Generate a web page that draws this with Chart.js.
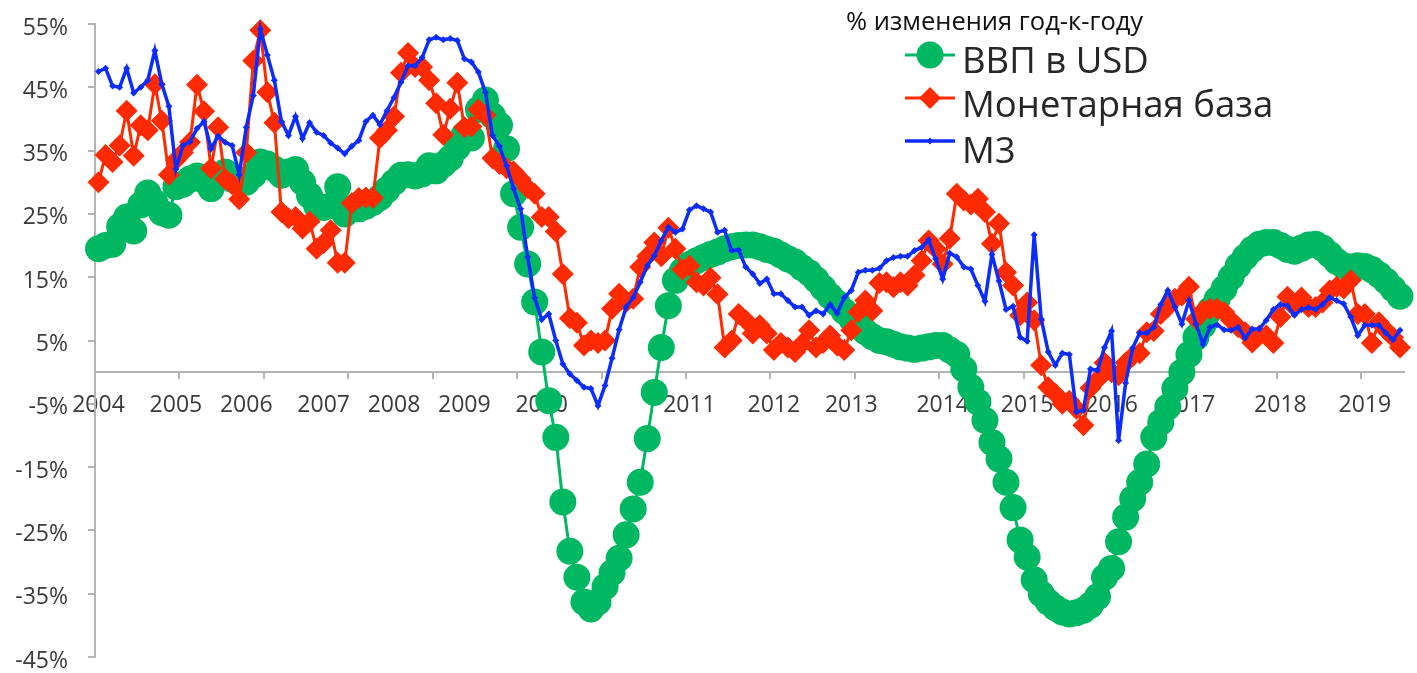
<!DOCTYPE html>
<html>
<head>
<meta charset="utf-8">
<script src="https://cdn.jsdelivr.net/npm/chart.js@4.4.1/dist/chart.umd.min.js"></script>
<style>
  html, body { margin: 0; padding: 0; background: #fff; }
  #wrap { width: 1417px; height: 673px; }
</style>
</head>
<body>
<div id="wrap"><canvas id="myChart"></canvas></div>
<script>
// monthly, Jan 2004 .. Jun 2019
var firstYear = 2004
var monthCount = 186

var yearLabels = ['2004','2005','2006','2007','2008','2009','2010','2011','2012','2013','2014','2015','2016','2017','2018','2019']
var yearLabelAt = [0, 11, 21, 32, 42, 52, 63, 84, 96, 107, 120, 132, 144, 155, 168, 180]

var legendTitle = '% изменения год-к-году'

var gdpUsd = [
  19.5, 20.0, 20.2, 23.0, 24.5, 22.3, 26.4, 28.3, 26.8, 25.2, 24.8, 29.3,
  29.7, 30.5, 31.0, 30.3, 29.0, 31.0, 31.6, 30.5, 30.3, 30.0, 31.1, 33.2,
  32.9, 32.1, 31.1, 31.6, 32.0, 30.0, 27.9, 26.3, 26.0, 26.3, 29.3, 25.0,
  25.8, 25.8, 26.2, 26.8, 27.6, 28.8, 30.0, 31.1, 31.2, 31.0, 31.3, 32.6,
  31.8, 32.8, 33.8, 35.5, 37.5, 37.0, 41.5, 43.0, 40.5, 39.0, 35.3, 28.2,
  22.9, 17.1, 11.1, 3.2, -4.5, -10.3, -20.5, -28.3, -32.4, -36.3, -37.4, -36.3,
  -33.9, -31.7, -29.4, -25.7, -21.6, -17.4, -10.5, -3.2, 3.9, 10.5, 14.5, 16.0,
  17.0, 17.6, 18.1, 18.6, 19.0, 19.5, 19.8, 20.0, 20.1, 20.1, 19.8, 19.4,
  19.1, 18.5, 17.9, 17.4, 16.5, 15.7, 14.6, 13.3, 12.0, 10.9, 9.6, 8.5,
  7.3, 6.4, 5.6, 5.0, 4.8, 4.4, 4.0, 3.8, 3.6, 3.8, 4.0, 4.2,
  4.2, 3.5, 2.8, 0.5, -2.4, -4.7, -7.6, -11.1, -13.7, -17.4, -21.4, -26.5,
  -29.2, -32.8, -35.0, -36.3, -37.2, -37.9, -38.2, -38.0, -37.6, -36.8, -35.5, -32.4,
  -31.0, -26.8, -22.9, -20.0, -17.4, -14.5, -10.3, -7.9, -5.5, -2.6, 0.0, 2.8,
  5.5, 7.4, 9.8, 11.5, 13.2, 15.0, 16.8, 18.2, 19.4, 20.2, 20.5, 20.5,
  20.0, 19.4, 19.1, 19.6, 20.1, 20.2, 19.6, 18.6, 17.5, 16.8, 16.6, 16.8,
  16.7, 16.2, 15.4, 14.4, 13.2, 12.0
]

var monetaryBase = [
  30.0, 34.3, 33.2, 35.8, 41.3, 34.2, 39.0, 38.2, 45.5, 39.7, 31.2, 33.5,
  34.7, 36.3, 45.4, 41.2, 32.2, 38.7, 30.5, 29.7, 27.3, 34.7, 49.2, 54.0,
  44.2, 39.4, 25.3, 24.3, 24.5, 22.7, 23.8, 19.5, 20.4, 22.4, 17.3, 17.3,
  26.7, 27.5, 27.6, 27.5, 37.0, 38.2, 40.4, 47.3, 50.4, 48.2, 48.2, 46.1,
  42.5, 37.5, 41.6, 45.7, 38.7, 38.8, 41.5, 40.6, 33.8, 32.9, 32.2, 31.7,
  30.5, 29.1, 28.2, 24.5, 24.5, 22.2, 15.5, 8.5, 7.8, 4.2, 5.0, 4.6,
  5.0, 10.0, 12.4, 11.1, 11.6, 16.6, 18.3, 20.5, 18.3, 22.8, 19.5, 16.2,
  16.8, 14.2, 13.7, 14.9, 12.3, 3.9, 5.0, 9.2, 8.2, 6.1, 7.4, 6.1,
  3.5, 4.6, 3.9, 3.2, 4.5, 6.6, 3.9, 4.6, 5.8, 4.2, 3.5, 6.6,
  9.5, 11.3, 9.7, 14.1, 14.2, 13.4, 14.2, 13.7, 15.3, 17.6, 20.8, 19.5,
  17.1, 21.1, 28.2, 27.1, 26.5, 27.4, 25.3, 20.3, 23.5, 15.8, 13.7, 9.0,
  11.0, 8.2, 1.1, -2.4, -3.4, -5.0, -4.5, -5.8, -8.4, -2.5, -1.2, 1.5,
  0.0, -0.5, 1.5, 2.5, 3.0, 6.3, 6.5, 9.2, 10.3, 11.6, 12.1, 13.5,
  8.4, 9.7, 10.0, 10.0, 9.5, 8.2, 7.1, 6.3, 4.7, 5.8, 5.8, 4.6,
  8.7, 11.9, 10.3, 11.8, 10.3, 10.3, 11.0, 12.9, 13.5, 13.2, 14.5, 9.2,
  9.2, 4.6, 7.9, 6.6, 5.5, 3.9
]

var m3 = [
  47.5, 48.0, 45.2, 45.0, 48.0, 44.1, 45.0, 46.1, 50.8, 45.5, 42.0, 32.1,
  35.8, 36.4, 38.5, 39.6, 35.3, 37.3, 36.3, 35.8, 31.2, 38.7, 43.7, 54.2,
  50.1, 46.1, 39.6, 37.4, 40.4, 36.9, 39.4, 37.9, 37.4, 36.2, 35.4, 34.5,
  35.7, 36.6, 39.6, 40.6, 39.1, 41.3, 43.4, 45.8, 48.4, 48.4, 49.7, 52.5,
  52.9, 52.5, 52.7, 52.4, 49.5, 49.0, 47.4, 44.2, 37.4, 35.7, 32.6, 29.0,
  25.8, 18.2, 11.7, 8.3, 9.2, 5.0, 1.3, -0.3, -1.3, -2.4, -2.6, -5.3,
  -2.1, 2.2, 6.7, 10.3, 11.8, 14.2, 16.8, 18.4, 20.8, 22.9, 22.1, 22.6,
  25.6, 26.3, 25.8, 25.3, 22.1, 22.4, 19.2, 19.3, 16.6, 15.5, 14.0, 14.7,
  12.4, 12.4, 11.3, 10.3, 10.3, 9.0, 9.7, 9.2, 10.7, 9.3, 11.8, 12.9,
  15.8, 16.1, 16.1, 16.4, 17.6, 18.1, 18.3, 18.3, 19.2, 19.7, 20.9, 17.9,
  14.7, 18.8, 18.2, 16.6, 16.3, 13.7, 11.2, 18.6, 14.4, 9.9, 10.4, 5.5,
  4.9, 21.7, 8.4, 3.2, 1.1, 3.0, 2.8, -6.3, -6.0, 0.5, 0.3, 3.9,
  6.5, -10.8, -1.7, 3.8, 6.2, 6.2, 7.1, 10.7, 12.9, 10.3, 7.6, 11.3,
  7.6, 4.4, 7.1, 7.5, 6.7, 6.6, 7.1, 5.4, 6.8, 6.8, 8.2, 9.9,
  10.7, 10.5, 9.0, 9.9, 10.2, 9.9, 10.7, 11.8, 11.3, 10.8, 8.7, 5.8,
  7.4, 7.4, 7.4, 6.2, 5.1, 6.6
]

var months = []
for (var k = 0; k < monthCount; k++) {
  var yy = firstYear + Math.floor(k / 12)
  var mm = (k % 12) + 1
  months.push(yy + '-' + (mm < 10 ? '0' + mm : mm))
}

var axisGray = '#b4b4b4'
var textGray = '#3a3a3a'
Chart.defaults.font.family = "'Open Sans', sans-serif"

// legend drawn over the plot, top right, like the original
const overlayLegend = {
  id: 'overlayLegend',
  afterDraw(chart) {
    const ctx = chart.ctx
    const rows = [{line: 55, text: 73}, {line: 98, text: 117}, {line: 141, text: 163}]
    ctx.save()
    ctx.textAlign = 'left'
    ctx.textBaseline = 'alphabetic'
    ctx.fillStyle = '#111'
    ctx.font = "25.5px 'Open Sans'"
    ctx.fillText(legendTitle, 846, 30)
    chart.data.datasets.forEach(function (ds, i) {
      const r = rows[i]
      ctx.strokeStyle = ds.borderColor
      ctx.lineWidth = ds.borderWidth
      ctx.beginPath()
      ctx.moveTo(905, r.line)
      ctx.lineTo(955, r.line)
      ctx.stroke()
      ctx.fillStyle = ds.pointBackgroundColor
      Chart.helpers.drawPoint(ctx, {pointStyle: ds.pointStyle, radius: ds.pointRadius, rotation: 0, borderWidth: 0}, 930, r.line)
      ctx.fillStyle = '#262626'
      ctx.font = "36.5px 'Open Sans'"
      ctx.fillText(ds.label, 962, r.text)
    })
    ctx.restore()
  }
}

const data = {
  labels: months,
  datasets: [{
    label: 'ВВП в USD',
    data: gdpUsd,
    borderColor: '#00b862',
    backgroundColor: '#00b862',
    pointBackgroundColor: '#00b862',
    borderWidth: 3,
    pointStyle: 'circle',
    pointRadius: 13.5,
    pointBorderWidth: 0,
    tension: 0,
    order: 3,
    clip: false
  }, {
    label: 'Монетарная база',
    data: monetaryBase,
    borderColor: '#ff2a00',
    backgroundColor: '#ff2a00',
    pointBackgroundColor: '#ff2a00',
    borderWidth: 3,
    pointStyle: 'rectRot',
    pointRadius: 11,
    pointBorderWidth: 0,
    tension: 0,
    order: 2,
    clip: false
  }, {
    label: 'М3',
    data: m3,
    borderColor: '#0a2cff',
    backgroundColor: '#0a2cff',
    pointBackgroundColor: '#0a2cff',
    borderWidth: 3.5,
    pointStyle: 'rectRot',
    pointRadius: 3.5,
    pointBorderWidth: 0,
    tension: 0,
    order: 1,
    clip: false
  }]
}

const config = {
  type: 'line',
  data: data,
  plugins: [overlayLegend],
  options: {
    responsive: true,
    maintainAspectRatio: false,
    animation: false,
    events: [],
    layout: { padding: { left: 0, right: 0, top: 24, bottom: 16 } },
    plugins: {
      legend: { display: false },
      tooltip: { enabled: false }
    },
    scales: {
      x: {
        type: 'category',
        offset: true,
        position: { y: 0 },
        border: { color: axisGray, width: 2 },
        grid: {
          offset: true,
          drawOnChartArea: false,
          drawTicks: true,
          tickLength: 6,
          lineWidth: 2,
          color: function (c) { return c.index % 12 === 0 ? axisGray : 'rgba(0,0,0,0)' }
        },
        ticks: {
          autoSkip: false,
          maxRotation: 0,
          minRotation: 0,
          padding: 14,
          color: textGray,
          font: { size: 23 },
          callback: function (val, idx) {
            var p = yearLabelAt.indexOf(idx)
            return p >= 0 ? yearLabels[p] : ''
          }
        }
      },
      y: {
        min: -45,
        max: 55,
        border: { color: axisGray, width: 2 },
        grid: { drawOnChartArea: false, drawTicks: true, tickLength: 7, lineWidth: 2, color: axisGray },
        ticks: {
          stepSize: 10,
          padding: 20,
          labelOffset: 4,
          color: textGray,
          font: { size: 23 },
          callback: function (v) { return v + '%' }
        },
        afterFit: function (scale) {
          scale.width = 95
          scale.paddingTop = 0
          scale.paddingBottom = 0
        }
      }
    }
  }
}

const myChart = new Chart(document.getElementById('myChart'), config)
</script>
</body>
</html>
